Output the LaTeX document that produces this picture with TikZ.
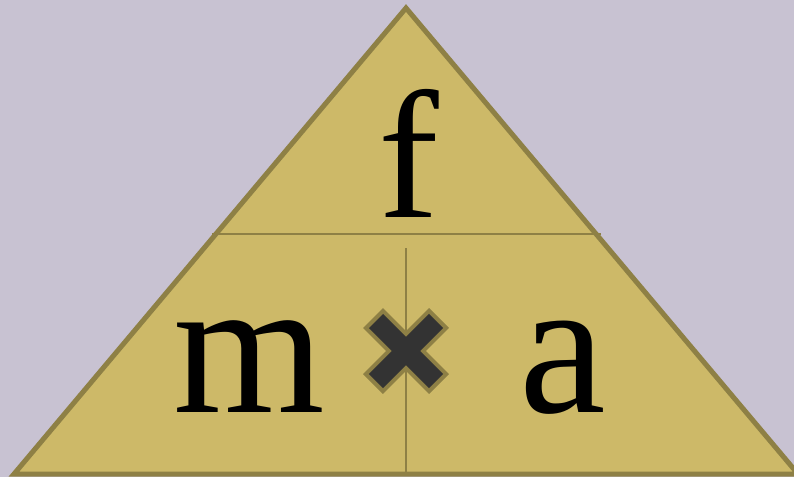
\documentclass[tikz,border=0pt]{standalone}
\usepackage{fontspec}
\setmainfont{Liberation Serif}
\usetikzlibrary{positioning,calc}
\definecolor{triBack}{HTML}{C8C2D2}
\definecolor{triFill}{HTML}{CDB968}
\definecolor{triEdge}{HTML}{8E8045}
\definecolor{triCross}{HTML}{333333}
\tikzset{
  tribox/.style={draw=triEdge, fill=triFill, line width=5pt, line join=miter},
  divider/.style={draw=triEdge, line width=2pt},
  letter/.style={font=\fontsize{195}{195}\selectfont, inner sep=0pt, anchor=base},
  crossedge/.style={draw=triEdge, line width=28pt},
  crossbar/.style={draw=triCross, line width=20pt}
}

\begin{document}
\begin{tikzpicture}[x=1pt,y=-1pt]
  \fill[triBack] (0,0) rectangle (794,477);
  \useasboundingbox (0,0) rectangle (794,477);
  % triangle
  \begin{scope}
    \clip (0,0) rectangle (794,477);
    \coordinate (apex) at (406,8);
    \coordinate (lcorner) at (14,474);
    \coordinate (rcorner) at (798,474);
    \draw[tribox] (apex) -- (lcorner) -- (rcorner) -- cycle;
  \end{scope}
  % dividers
  \coordinate (hl) at (212,234);
  \coordinate (hr) at (601,234);
  \coordinate (vt) at (406,248);
  \coordinate (vb) at (406,474);
  \draw[divider] (hl) -- (hr);
  \draw[divider] (vt) -- (vb);
  % letters
  \node[letter, font=\fontsize{182}{182}\selectfont] (force) at (409,217) {f};
  \node[letter] (mass) at (249,412) {m};
  \node[letter] (accel) at (563,412) {a};
  % times sign
  \coordinate (times) at (406,351);
  \draw[crossedge] ($(times)+(-33,-33)$) -- ($(times)+(33,33)$);
  \draw[crossedge] ($(times)+(-33,33)$) -- ($(times)+(33,-33)$);
  \draw[crossbar] ($(times)+(-30,-30)$) -- ($(times)+(30,30)$);
  \draw[crossbar] ($(times)+(-30,30)$) -- ($(times)+(30,-30)$);
\end{tikzpicture}
\end{document}
